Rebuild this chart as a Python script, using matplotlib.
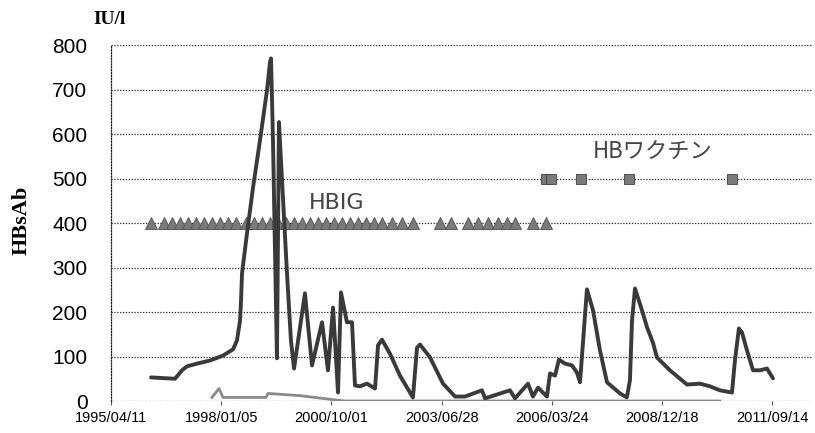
"""HBsAb titer over time with HBIG / HB vaccine administration markers."""

import numpy as np
import matplotlib
matplotlib.use("Agg")
import matplotlib.pyplot as plt

START = np.datetime64("1995-04-11")

# HBsAb titer (IU/l), days since 1995/04/11
hbsab_days = [363, 581, 644, 690, 780, 898, 1016, 1107, 1143, 1171, 1180, 1189,
              1234, 1289, 1352, 1416, 1443, 1452, 1470, 1488, 1506, 1524, 1552,
              1597, 1633, 1661, 1760, 1824, 1915, 1969, 2015, 2060, 2087, 2141,
              2187, 2214, 2259, 2323, 2396, 2423, 2459, 2532, 2622, 2740, 2777,
              2804, 2895, 3013, 3122, 3212, 3366, 3394, 3621, 3666, 3784, 3829,
              3875, 3956, 3984, 4029, 4065, 4120, 4183, 4228, 4256, 4319, 4374,
              4437, 4501, 4619, 4681, 4709, 4728, 4755, 4818, 4864, 4918, 4954,
              5072, 5227, 5345, 5435, 5526, 5635, 5662, 5698, 5726, 5771, 5826,
              5889, 5953, 6007]
hbsab_vals = [53, 50, 69, 78, 84, 91, 102, 116, 136, 181, 226, 287,
              377, 480, 586, 699, 762, 770, 586, 339, 96, 627, 496,
              287, 136, 73, 242, 80, 177, 69, 210, 19, 244, 177,
              177, 35, 33, 39, 28, 125, 138, 106, 57, 8, 120,
              127, 98, 39, 10, 10, 24, 6, 24, 6, 39, 10,
              30, 10, 62, 57, 93, 84, 80, 64, 42, 251, 204,
              114, 42, 17, 8, 46, 181, 253, 204, 166, 131, 98,
              69, 37, 39, 33, 24, 19, 91, 163, 154, 114, 69,
              69, 73, 51]

# second (low) series
low_days = [916, 980, 1016, 1406, 1425, 1715, 2015, 2123, 3000, 4000, 5000, 5526]
low_vals = [8, 28, 8, 8, 17, 12, 3, 0, 0, 0, 0, 0]

# HBIG administrations (plotted at 400)
hbig_days = [363, 481, 554, 626, 699, 771, 844, 917, 989, 1062, 1134, 1225,
             1298, 1370, 1443, 1515, 1588, 1661, 1733, 1806, 1878, 1951, 2024,
             2096, 2169, 2241, 2314, 2386, 2459, 2550, 2641, 2740, 2985, 3085,
             3239, 3330, 3421, 3512, 3593, 3666, 3829, 3947]
hbig_level = 400

# HB vaccine administrations (plotted at 500)
vacc_days = [3947, 3993, 4265, 4700, 5635]
vacc_level = 500

tick_days = [0, 1000, 2000, 3000, 4000, 5000, 6000]
tick_labels = [str(START + np.timedelta64(d, "D")).replace("-", "/") for d in tick_days]

fig = plt.figure(figsize=(8.15, 4.33), dpi=100)
ax = fig.add_axes([0.1362, 0.0739, 0.8613, 0.822])

dot = (0, (1, 1.3))
for v in range(0, 801, 100):
    ax.axhline(v, color="#222222", lw=0.9, ls=dot, zorder=1)

ax.plot(low_days, low_vals, color="#8a8a8a", lw=2.0, zorder=2,
        solid_joinstyle="round")
ax.plot(hbig_days, [hbig_level] * len(hbig_days), ls="none", marker="^",
        ms=8, mfc="#7a7a7a", mec="#505050", mew=0.6, zorder=3)
ax.plot(vacc_days, [vacc_level] * len(vacc_days), ls="none", marker="s",
        ms=6.5, mfc="#7a7a7a", mec="#404040", mew=0.6, zorder=3)
ax.plot(hbsab_days, hbsab_vals, color="#3a3a3a", lw=2.8, zorder=4,
        solid_joinstyle="round", solid_capstyle="round")

ax.text(2051, 444, "HBIG", fontsize=16, family="DejaVu Sans",
        color="#444444", ha="center", va="center")
ax.text(4918, 559, "HBワクチン", fontsize=16,
        family=["Noto Sans CJK JP", "DejaVu Sans"], color="#444444",
        ha="center", va="center")

ax.set_xlim(0, 6370)
ax.set_ylim(0, 800)
ax.set_yticks(range(0, 801, 100))
ax.set_xticks(tick_days)
ax.set_xticklabels(tick_labels, fontsize=10.5, family="Liberation Sans")
for lbl in ax.get_yticklabels():
    lbl.set_fontsize(15)
    lbl.set_family("Liberation Sans")

for side in ("top", "right", "bottom"):
    ax.spines[side].set_visible(False)
ax.spines["left"].set_linestyle(dot)
ax.spines["left"].set_linewidth(0.9)
ax.spines["left"].set_color("#222222")
ax.tick_params(axis="y", length=0, pad=17)
ax.tick_params(axis="x", length=3, width=0.8, color="#555555", pad=4)

fig.text(0.134, 0.955, "IU/l", fontsize=14, family="Liberation Serif",
         fontweight="bold", ha="center", va="center")
fig.text(0.027, 0.49, "HBsAb", fontsize=16, family="Liberation Serif",
         fontweight="bold", rotation=90, ha="center", va="center")

fig.savefig("out.png", dpi=100)
print("Saved out.png")
